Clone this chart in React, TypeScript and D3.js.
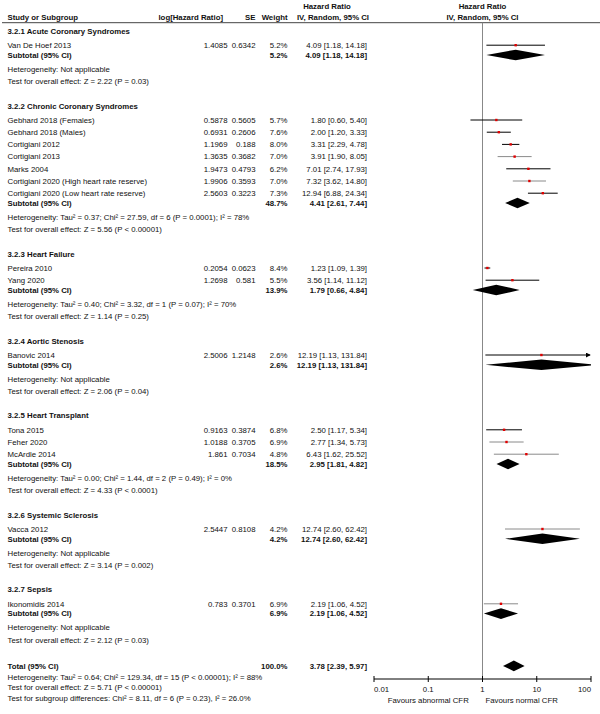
import React from "react";
import * as d3 from "d3";

// ---------- DATA ----------
const groupNames = [
  "3.2.1 Acute Coronary Syndromes",
  "3.2.2 Chronic Coronary Syndromes",
  "3.2.3 Heart Failure",
  "3.2.4 Aortic Stenosis",
  "3.2.5 Heart Transplant",
  "3.2.6 Systemic Sclerosis",
  "3.2.7 Sepsis",
];

const studyNames = [
  "Van De Hoef 2013",
  "Gebhard 2018 (Females)",
  "Gebhard 2018 (Males)",
  "Cortigiani 2012",
  "Cortigiani 2013",
  "Marks 2004",
  "Cortigiani 2020 (High heart rate reserve)",
  "Cortigiani 2020 (Low heart rate reserve)",
  "Pereira 2010",
  "Yang 2020",
  "Banovic 2014",
  "Tona 2015",
  "Feher 2020",
  "McArdle 2014",
  "Vacca 2012",
  "Ikonomidis 2014",
];
const studyGroup = [0, 1, 1, 1, 1, 1, 1, 1, 2, 2, 3, 4, 4, 4, 5, 6];
const logHR = ["1.4085", "0.5878", "0.6931", "1.1969", "1.3635", "1.9473", "1.9906", "2.5603", "0.2054", "1.2698", "2.5006", "0.9163", "1.0188", "1.861", "2.5447", "0.783"];
const seVals = ["0.6342", "0.5605", "0.2606", "0.188", "0.3682", "0.4793", "0.3593", "0.3223", "0.0623", "0.581", "1.2148", "0.3874", "0.3705", "0.7034", "0.8108", "0.3701"];
const studyWeight = [5.2, 5.7, 7.6, 8.0, 7.0, 6.2, 7.0, 7.3, 8.4, 5.5, 2.6, 6.8, 6.9, 4.8, 4.2, 6.9];
const studyHR = [4.09, 1.8, 2.0, 3.31, 3.91, 7.01, 7.32, 12.94, 1.23, 3.56, 12.19, 2.5, 2.77, 6.43, 12.74, 2.19];
const studyLow = [1.18, 0.6, 1.2, 2.29, 1.9, 2.74, 3.62, 6.88, 1.09, 1.14, 1.13, 1.17, 1.34, 1.62, 2.6, 1.06];
const studyHigh = [14.18, 5.4, 3.33, 4.78, 8.05, 17.93, 14.8, 24.34, 1.39, 11.12, 131.84, 5.34, 5.73, 25.52, 62.42, 4.52];

const subWeight = [5.2, 48.7, 13.9, 2.6, 18.5, 4.2, 6.9];
const subHR = [4.09, 4.41, 1.79, 12.19, 2.95, 12.74, 2.19];
const subLow = [1.18, 2.61, 0.66, 1.13, 1.81, 2.6, 1.06];
const subHigh = [14.18, 7.44, 4.84, 131.84, 4.82, 62.42, 4.52];
const hetTexts = [
  "Heterogeneity: Not applicable",
  "Heterogeneity: Tau² = 0.37; Chi² = 27.59, df = 6 (P = 0.0001); I² = 78%",
  "Heterogeneity: Tau² = 0.40; Chi² = 3.32, df = 1 (P = 0.07); I² = 70%",
  "Heterogeneity: Not applicable",
  "Heterogeneity: Tau² = 0.00; Chi² = 1.44, df = 2 (P = 0.49); I² = 0%",
  "Heterogeneity: Not applicable",
  "Heterogeneity: Not applicable",
];
const testTexts = [
  "Test for overall effect: Z = 2.22 (P = 0.03)",
  "Test for overall effect: Z = 5.56 (P < 0.00001)",
  "Test for overall effect: Z = 1.14 (P = 0.25)",
  "Test for overall effect: Z = 2.06 (P = 0.04)",
  "Test for overall effect: Z = 4.33 (P < 0.0001)",
  "Test for overall effect: Z = 3.14 (P = 0.002)",
  "Test for overall effect: Z = 2.12 (P = 0.03)",
];

const totalWeight = 100.0;
const totalHR = 3.78;
const totalLow = 2.39;
const totalHigh = 5.97;
const totalTexts = [
  "Heterogeneity: Tau² = 0.64; Chi² = 129.34, df = 15 (P < 0.00001); I² = 88%",
  "Test for overall effect: Z = 5.71 (P < 0.00001)",
  "Test for subgroup differences: Chi² = 8.11, df = 6 (P = 0.23), I² = 26.0%",
];

const axisTicks = [0.01, 0.1, 1, 10, 100];
const axisTickLabels = ["0.01", "0.1", "1", "10", "100"];
const favoursLeft = "Favours abnormal CFR";
const favoursRight = "Favours normal CFR";

// style only: CI line shade per study (as rendered in the reference)
const studyLineGray = [false, false, false, false, true, false, true, false, false, false, false, false, true, true, true, true];

// ---------- LAYOUT ----------
const W = 600;
const H = 714;
const FONT = "'Liberation Sans', Arial, Helvetica, sans-serif";
const FS = 7.8;

const xScale = d3.scaleLog().domain([0.01, 100]).range([374, 591]);

const COL = {
  name: 7.5,
  logHR: 227.5,
  se: 255.5,
  weight: 287.5,
  ci: 367,
};

type Line = { type: string; g?: number; s?: number; text?: string; y: number };

const GAPS: Record<string, number> = {
  "hdr>study": 14.2,
  "study>study": 12.2,
  "study>sub": 9.8,
  "sub>het": 14,
  "het>test": 12.6,
  "test>hdr": 24.2,
  "test>total": 25.7,
  "total>totText": 11,
  "totText>totText": 10.8,
};

function buildLines(): Line[] {
  const lines: Line[] = [];
  let y = 31;
  let prev = "";
  const push = (l: Omit<Line, "y">) => {
    if (prev) y += GAPS[prev + ">" + l.type];
    lines.push({ ...l, y });
    prev = l.type;
  };
  groupNames.forEach((gn, g) => {
    push({ type: "hdr", g, text: gn });
    studyNames.forEach((sn, s) => {
      if (studyGroup[s] === g) push({ type: "study", g, s });
    });
    push({ type: "sub", g });
    push({ type: "het", g, text: hetTexts[g] });
    push({ type: "test", g, text: testTexts[g] });
  });
  push({ type: "total" });
  totalTexts.forEach((t) => push({ type: "totText", text: t }));
  return lines;
}

const fmt2 = d3.format(".2f");
const ciLabel = (hr: number, lo: number, hi: number) => `${fmt2(hr)} [${fmt2(lo)}, ${fmt2(hi)}]`;
const pct = (w: number) => `${w.toFixed(1)}%`;

const AXIS_Y = 679;
const HEADER_LINE_Y = 22.7;

function Diamond({ hr, lo, hi, y }: { hr: number; lo: number; hi: number; y: number }) {
  const h = 5.3;
  const pts = [
    [xScale(lo), y],
    [xScale(hr), y - h],
    [xScale(hi), y],
    [xScale(hr), y + h],
  ];
  return <polygon points={pts.map((p) => p.join(",")).join(" ")} fill="#000" clipPath="url(#plotClip)" />;
}

export default function App() {
  const lines = buildLines();
  const t = (x: number, y: number, s: string, opts: any = {}) => (
    <text x={x} y={y} dy="0.35em" textAnchor={opts.anchor || "start"} fontWeight={opts.bold ? "bold" : "normal"}>
      {s}
    </text>
  );
  const x1 = xScale(1);
  const xMax = xScale(100);

  return (
    <svg
      width={W}
      height={H}
      style={{ position: "absolute", left: 0, top: 0, background: "#fff" }}
      fontFamily={FONT}
      fontSize={FS}
      fill="#111"
    >
      <defs>
        <clipPath id="plotClip">
          <rect x={xScale(0.01)} y={0} width={xMax - xScale(0.01)} height={H} />
        </clipPath>
        <marker id="arrow" viewBox="0 0 6 6" refX="5" refY="3" markerWidth="5" markerHeight="5" orient="auto">
          <path d="M0,0 L6,3 L0,6 z" fill="#000" />
        </marker>
      </defs>
      <rect x={0} y={0} width={W} height={H} fill="#fff" />

      {/* header */}
      {t(COL.name, 17.3, "Study or Subgroup", { bold: true })}
      {t(223, 17.3, "log[Hazard Ratio]", { anchor: "end", bold: true })}
      {t(COL.se, 17.3, "SE", { anchor: "end", bold: true })}
      {t(COL.weight, 17.3, "Weight", { anchor: "end", bold: true })}
      {t(327, 6, "Hazard Ratio", { anchor: "middle", bold: true })}
      {t(333, 17.3, "IV, Random, 95% CI", { anchor: "middle", bold: true })}
      {t(x1, 6, "Hazard Ratio", { anchor: "middle", bold: true })}
      {t(x1, 17.3, "IV, Random, 95% CI", { anchor: "middle", bold: true })}
      <line x1={2} x2={W} y1={HEADER_LINE_Y} y2={HEADER_LINE_Y} stroke="#444" strokeWidth={1} />

      {/* null line */}
      <line x1={x1} x2={x1} y1={HEADER_LINE_Y} y2={AXIS_Y} stroke="#888" strokeWidth={1} />

      {lines.map((l, i) => {
        if (l.type === "hdr") return <g key={i}>{t(COL.name, l.y, l.text!, { bold: true })}</g>;
        if (l.type === "het" || l.type === "test" || l.type === "totText")
          return <g key={i}>{t(COL.name, l.y, l.text!)}</g>;
        if (l.type === "study") {
          const s = l.s!;
          const hi = Math.min(studyHigh[s], 100);
          const clipped = studyHigh[s] > 100;
          const sz = 2.4;
          return (
            <g key={i}>
              {t(COL.name, l.y, studyNames[s])}
              {t(COL.logHR, l.y, logHR[s], { anchor: "end" })}
              {t(COL.se, l.y, seVals[s], { anchor: "end" })}
              {t(COL.weight, l.y, pct(studyWeight[s]), { anchor: "end" })}
              {t(COL.ci, l.y, ciLabel(studyHR[s], studyLow[s], studyHigh[s]), { anchor: "end" })}
              <line
                x1={xScale(studyLow[s])}
                x2={clipped ? xScale(hi) - 1 : xScale(hi)}
                y1={l.y}
                y2={l.y}
                stroke={studyLineGray[s] ? "#8a8a8a" : "#000"}
                strokeWidth={1}
                markerEnd={clipped ? "url(#arrow)" : undefined}
              />
              <rect x={xScale(studyHR[s]) - sz / 2} y={l.y - sz / 2} width={sz} height={sz} fill="#e00000" />
            </g>
          );
        }
        if (l.type === "sub") {
          const g = l.g!;
          return (
            <g key={i}>
              {t(COL.name, l.y, "Subtotal (95% CI)", { bold: true })}
              {t(COL.weight, l.y, pct(subWeight[g]), { anchor: "end", bold: true })}
              {t(COL.ci, l.y, ciLabel(subHR[g], subLow[g], subHigh[g]), { anchor: "end", bold: true })}
              <Diamond hr={subHR[g]} lo={subLow[g]} hi={subHigh[g]} y={l.y} />
            </g>
          );
        }
        if (l.type === "total") {
          return (
            <g key={i}>
              {t(COL.name, l.y, "Total (95% CI)", { bold: true })}
              {t(COL.weight, l.y, pct(totalWeight), { anchor: "end", bold: true })}
              {t(COL.ci, l.y, ciLabel(totalHR, totalLow, totalHigh), { anchor: "end", bold: true })}
              <Diamond hr={totalHR} lo={totalLow} hi={totalHigh} y={l.y} />
            </g>
          );
        }
        return null;
      })}

      {/* axis */}
      <line x1={xScale(0.01)} x2={xMax} y1={AXIS_Y} y2={AXIS_Y} stroke="#000" strokeWidth={1} />
      {axisTicks.map((v, i) => (
        <g key={v}>
          <line x1={xScale(v)} x2={xScale(v)} y1={AXIS_Y - 3} y2={AXIS_Y + 3} stroke="#000" strokeWidth={1} />
          {t(xScale(v), 689, axisTickLabels[i], {
            anchor: i === 0 ? "start" : i === axisTicks.length - 1 ? "end" : "middle",
          })}
        </g>
      ))}
      {t(xScale(0.1), 700, favoursLeft, { anchor: "middle" })}
      {t(x1 + 3, 700, favoursRight)}
    </svg>
  );
}
